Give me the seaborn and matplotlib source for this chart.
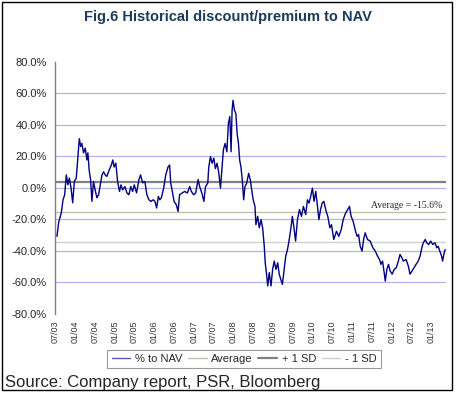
import pandas as pd
import matplotlib
matplotlib.use("Agg")
import matplotlib.pyplot as plt
from matplotlib.patches import Rectangle
import seaborn as sns

# Premium / discount to NAV (%)
dates = [
    "2003-07-19", "2003-08-04", "2003-08-28", "2003-09-13", "2003-09-28", "2003-10-13",
    "2003-10-28", "2003-11-10", "2003-11-25", "2003-12-11", "2003-12-26", "2004-01-13",
    "2004-01-28", "2004-02-10", "2004-02-23", "2004-03-05", "2004-03-20", "2004-04-05",
    "2004-04-20", "2004-04-29", "2004-05-11", "2004-05-24", "2004-06-05", "2004-06-20",
    "2004-07-05", "2004-07-21", "2004-08-06", "2004-08-21", "2004-09-06", "2004-09-21",
    "2004-10-06", "2004-10-21", "2004-11-11", "2004-11-30", "2004-12-15", "2004-12-27",
    "2005-01-12", "2005-01-28", "2005-02-15", "2005-03-01", "2005-03-16", "2005-04-06",
    "2005-04-24", "2005-05-12", "2005-05-30", "2005-06-16", "2005-07-01", "2005-07-22",
    "2005-08-13", "2005-08-28", "2005-09-16", "2005-10-07", "2005-10-25", "2005-11-13",
    "2005-12-01", "2005-12-23", "2006-01-08", "2006-01-23", "2006-02-08", "2006-02-22",
    "2006-03-08", "2006-03-29", "2006-04-17", "2006-05-08", "2006-05-23", "2006-06-02",
    "2006-06-17", "2006-07-03", "2006-07-24", "2006-08-09", "2006-08-23", "2006-09-15",
    "2006-10-09", "2006-11-03", "2006-11-24", "2006-12-10", "2006-12-30", "2007-01-18",
    "2007-02-10", "2007-02-24", "2007-03-16", "2007-04-04", "2007-04-19", "2007-05-10",
    "2007-05-19", "2007-06-04", "2007-06-19", "2007-07-05", "2007-07-19", "2007-08-04",
    "2007-08-20", "2007-09-04", "2007-09-17", "2007-10-01", "2007-10-17", "2007-11-02",
    "2007-11-16", "2007-11-29", "2007-12-11", "2007-12-20", "2007-12-29", "2008-01-11",
    "2008-01-24", "2008-02-05", "2008-02-17", "2008-02-28", "2008-03-11", "2008-03-23",
    "2008-04-05", "2008-04-17", "2008-05-03", "2008-05-21", "2008-06-05", "2008-06-18",
    "2008-07-02", "2008-07-18", "2008-07-27", "2008-08-12", "2008-08-27", "2008-09-12",
    "2008-09-27", "2008-10-12", "2008-10-21", "2008-11-04", "2008-11-13", "2008-11-27",
    "2008-12-13", "2008-12-28", "2009-01-12", "2009-01-28", "2009-02-13", "2009-02-27",
    "2009-03-13", "2009-03-28", "2009-04-13", "2009-04-28", "2009-05-14", "2009-05-28",
    "2009-06-13", "2009-06-28", "2009-07-13", "2009-07-28", "2009-08-14", "2009-09-02",
    "2009-09-20", "2009-10-08", "2009-10-29", "2009-11-14", "2009-11-29", "2009-12-14",
    "2009-12-30", "2010-01-14", "2010-01-30", "2010-02-15", "2010-02-28", "2010-03-15",
    "2010-03-30", "2010-04-15", "2010-05-06", "2010-05-21", "2010-06-09", "2010-06-24",
    "2010-07-15", "2010-08-09", "2010-08-30", "2010-09-22", "2010-10-10", "2010-11-01",
    "2010-11-21", "2010-12-07", "2010-12-22", "2011-01-10", "2011-02-01", "2011-02-16",
    "2011-03-01", "2011-03-16", "2011-04-02", "2011-04-16", "2011-05-01", "2011-05-22",
    "2011-06-16", "2011-07-11", "2011-08-02", "2011-08-23", "2011-09-10", "2011-09-23",
    "2011-10-08", "2011-10-23", "2011-11-02", "2011-11-17", "2011-12-02", "2011-12-17",
    "2012-01-05", "2012-01-23", "2012-02-11", "2012-03-02", "2012-03-17", "2012-04-03",
    "2012-04-17", "2012-05-12", "2012-06-02", "2012-06-17", "2012-07-06", "2012-07-24",
    "2012-08-12", "2012-09-01", "2012-09-18", "2012-10-04", "2012-10-18", "2012-11-04",
    "2012-11-19", "2012-12-07", "2012-12-25", "2013-01-13", "2013-02-04", "2013-02-19",
    "2013-03-04", "2013-03-19", "2013-04-05", "2013-04-14", "2013-04-25", "2013-05-07",
]
pct_to_nav = [
    -31.0, -22.0, -16.0, -7.8, -4.6, 8.0,
    1.7, 6.0, 0.0, -9.7, 3.8, 6.0,
    19.6, 31.0, 26.0, 28.0, 22.0, 25.0,
    17.5, 22.0, 11.0, 5.0, -8.8, 3.8,
    -1.5, -6.5, -4.6, 1.7, 8.0, 10.0,
    8.0, 7.0, 11.0, 14.0, 17.5, 13.0,
    15.5, 3.8, -2.5, 1.7, -1.5, 0.6,
    -3.4, -4.6, 0.6, -2.5, 1.7, -3.4,
    5.0, 8.0, 3.0, 3.8, -4.6, -7.8,
    -8.8, -7.8, -8.8, -13.0, -5.7, -7.8,
    -6.5, -0.4, 8.0, 13.0, 14.3, 2.8,
    -2.5, -8.8, -11.0, -15.2, -4.6, -3.5,
    -2.5, -3.5, 0.6, -2.5, -4.6, -3.5,
    5.0, 0.6, -3.5, -8.8, 0.6, 2.8,
    13.0, 19.6, 15.4, 18.6, 12.0, 15.4,
    9.0, -0.4, 11.0, 24.0, 28.0, 22.7,
    40.7, 45.0, 22.7, 49.0, 55.4, 49.0,
    47.0, 34.0, 28.0, 17.5, 13.0, 5.0,
    -7.8, 0.6, 2.8, 9.0, 5.0, -1.5,
    -7.8, -12.0, -23.6, -18.3, -25.6, -20.4,
    -25.6, -37.3, -47.8, -56.2, -62.5, -54.0,
    -62.5, -52.0, -46.7, -52.0, -47.8, -55.0,
    -58.3, -61.5, -52.0, -43.6, -39.4, -34.0,
    -26.7, -18.3, -25.6, -34.0, -20.4, -14.0,
    -18.3, -12.0, -17.2, -7.8, -9.9, -5.7,
    -0.4, -8.8, -2.5, -12.0, -20.4, -14.0,
    -9.9, -8.8, -15.2, -18.3, -25.6, -23.6,
    -33.0, -27.8, -31.0, -26.7, -20.4, -16.2,
    -14.0, -12.0, -18.3, -21.5, -27.8, -31.0,
    -29.9, -37.3, -40.4, -33.0, -28.8, -33.0,
    -34.0, -38.3, -40.4, -43.6, -45.7, -48.8,
    -46.7, -54.0, -59.4, -52.0, -48.8, -53.0,
    -55.0, -52.0, -51.0, -46.7, -42.5, -44.6,
    -46.7, -45.7, -49.9, -55.0, -53.0, -51.0,
    -48.8, -46.7, -43.6, -38.3, -35.1, -33.0,
    -35.1, -36.2, -34.0, -36.2, -35.1, -38.3,
    -37.3, -40.4, -43.6, -46.7, -42.5, -39.4,
]
average = -15.6
sd = 19.2
y_ticks = [-80, -60, -40, -20, 0, 20, 40, 60, 80]

df = pd.DataFrame({"date": pd.to_datetime(dates), "nav": pct_to_nav})

sns.set_style("white")
plt.rcParams["font.family"] = ["Liberation Sans", "DejaVu Sans"]

fig = plt.figure(figsize=(4.57, 3.95), dpi=100)
ax = fig.add_axes([0.1204, 0.2063, 0.855, 0.638])

# gridlines (no line at the top/bottom limits)
for v in y_ticks[1:-1]:
    ax.axhline(v, color="#b4b4e4", lw=0.9, zorder=0)

ax.axhline(average, color="#c4c0a8", lw=1.0, zorder=1, label="Average")
ax.axhline(average + sd, color="#808080", lw=1.6, zorder=1, label="+ 1 SD")
ax.axhline(average - sd, color="#cfcfcf", lw=1.0, zorder=1, label="- 1 SD")
sns.lineplot(data=df, x="date", y="nav", ax=ax, color="#000080", lw=1.0,
             label="% to NAV", zorder=3)

ax.set_xlim(pd.Timestamp("2003-07-01"), pd.Timestamp("2013-05-13"))
ax.set_ylim(-80, 80)
ax.set_yticks(y_ticks)
ax.set_yticklabels([f"{v:.1f}%" for v in y_ticks], fontsize=8)
xt = pd.date_range("2003-07-01", "2013-01-01", freq="6MS")
ax.set_xticks(xt)
ax.set_xticklabels([d.strftime("%m/%y") for d in xt], rotation=90, fontsize=6.5, color="#333333")
ax.set_xlabel("")
ax.set_ylabel("")
ax.tick_params(axis="y", direction="out", length=3, width=0.8, color="#808080", pad=3)
ax.tick_params(axis="x", length=0, pad=5)
for s in ["top", "right", "bottom"]:
    ax.spines[s].set_visible(False)
ax.spines["left"].set_color("#808080")
ax.spines["left"].set_linewidth(1.0)

ax.text(0.99, average + 4.0, "Average = -15.6%", transform=ax.get_yaxis_transform(),
        ha="right", va="center", fontsize=7, family="Liberation Serif")

handles, labels = ax.get_legend_handles_labels()
order = [labels.index(k) for k in ["% to NAV", "Average", "+ 1 SD", "- 1 SD"]]
ax.get_legend().remove()
leg = fig.legend([handles[i] for i in order], [labels[i] for i in order],
                 loc="center", bbox_to_anchor=(0.534, 0.091), ncol=4, fontsize=8,
                 frameon=True, fancybox=False, edgecolor="#808080",
                 handlelength=1.7, handletextpad=0.4, columnspacing=0.5, borderpad=0.4)
leg.get_frame().set_linewidth(0.8)
leg.legend_handles[0].set_color("#5a5ab4")
leg.legend_handles[0].set_linewidth(1.0)

fig.text(0.499, 0.957, "Fig.6 Historical discount/premium to NAV", ha="center", va="center",
         fontsize=10.5, fontweight="bold", color="#1c3b5a")
fig.text(5 / 457, 1 - 382 / 395, "Source: Company report, PSR, Bloomberg",
         ha="left", va="center", fontsize=12)

fig.patches.append(Rectangle((1.5 / 457, 5 / 395), 450.5 / 457, 388.5 / 395,
                             transform=fig.transFigure, fill=False,
                             edgecolor="black", lw=1.0))

fig.savefig("out.png", dpi=100)
